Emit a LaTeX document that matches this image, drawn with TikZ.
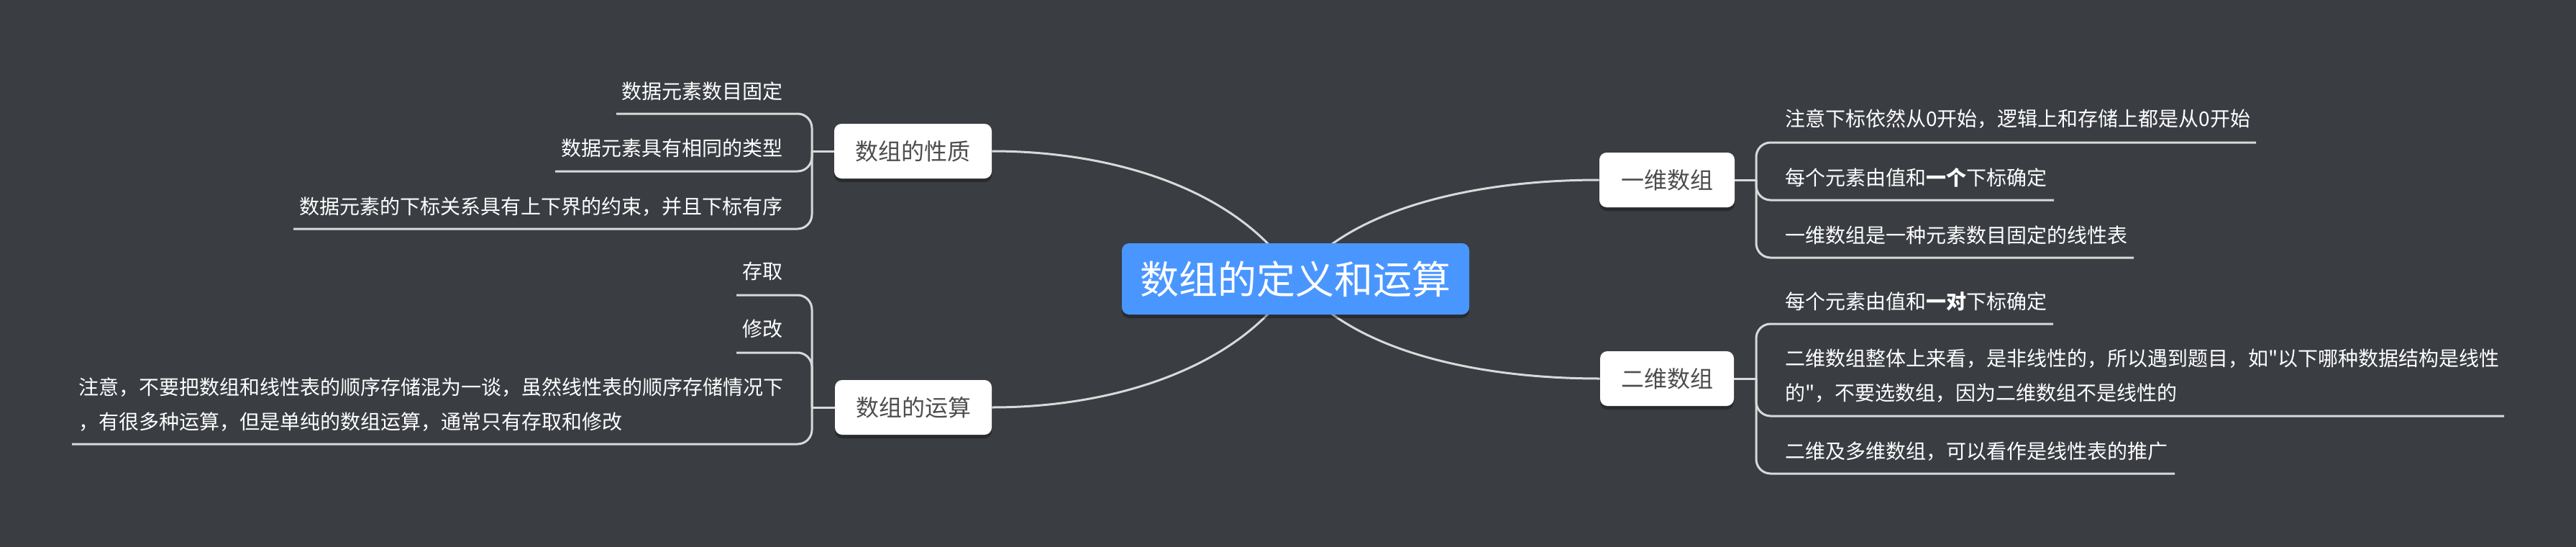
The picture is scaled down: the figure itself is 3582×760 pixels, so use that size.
\documentclass[tikz,border=0pt]{standalone}
\usepackage{fontspec}
\setmainfont{Noto Sans CJK SC}
\newfontfamily\plainq{Noto Sans CJK SC}
\usetikzlibrary{shadows,backgrounds}
\definecolor{bg}{RGB}{58,61,66}
\definecolor{ln}{RGB}{217,217,217}
\definecolor{mainblue}{RGB}{74,150,255}
\definecolor{subtxt}{RGB}{77,77,77}
\begin{document}
\begin{tikzpicture}[x=0.5pt,y=-0.5pt,
  edge/.style={draw=ln, line width=1.5pt},
  bracket/.style={edge, rounded corners=10pt},
  leaf/.style={text=white, font=\fontsize{14pt}{24pt}\selectfont, inner sep=0pt, align=left},
  sub/.style={fill=white, text=subtxt, rounded corners=5pt, font=\fontsize{16pt}{19pt}\selectfont,
    minimum height=38pt, inner sep=0pt,
    drop shadow={shadow xshift=0pt, shadow yshift=-2.5pt, opacity=0.3, fill=black}},
  root/.style={fill=mainblue, text=white, rounded corners=5pt, font=\fontsize{27pt}{32pt}\selectfont,
    minimum width=241.5pt, minimum height=49.5pt, inner sep=0pt,
    drop shadow={shadow xshift=0pt, shadow yshift=-2.5pt, opacity=0.3, fill=black}}]
\begin{scope}[on background layer]
\fill[bg] (0,0) rectangle (3582,760);
\end{scope}
\useasboundingbox (0,0) rectangle (3582,760);

% central and main branches
\node[root] (root) at (1801.5,387.5) {数组的定义和运算};
\node[sub, minimum width=109.5pt] (p) at (1269.5,210) {数组的性质};
\node[sub, minimum width=109pt] (o) at (1270,566) {数组的运算};
\node[sub, minimum width=94pt] (y1) at (2318,250) {一维数组};
\node[sub, minimum width=93pt] (y2) at (2318,526) {二维数组};

% junctions
\coordinate (jp) at (1129,210);
\coordinate (jo) at (1129,566);
\coordinate (jy1) at (2442,250);
\coordinate (jy2) at (2442,526);

% leaves left top
\node[leaf, anchor=east] (l1) at (1089,127) {数据元素数目固定};
\node[leaf, anchor=east] (l2) at (1089,206) {数据元素具有相同的类型};
\node[leaf, anchor=east] (l3) at (1089,287) {数据元素的下标关系具有上下界的约束，并且下标有序};
\coordinate (l1u) at (857,158);
\coordinate (l2u) at (772,238);
\coordinate (l3u) at (408,318);

% leaves left bottom
\node[leaf, anchor=east] (m1) at (1089,377) {存取};
\node[leaf, anchor=east] (m2) at (1089,457) {修改};
\node[leaf, anchor=west] (m3) at (109,562) {注意，不要把数组和线性表的顺序存储混为一谈，虽然线性表的顺序存储情况下\\，有很多种运算，但是单纯的数组运算，通常只有存取和修改};
\coordinate (m1u) at (1024,410);
\coordinate (m2u) at (1024,490);
\coordinate (m3u) at (100,617);

% leaves right top
\node[leaf, anchor=west] (r1) at (2482,165) {注意下标依然从0开始，逻辑上和存储上都是从0开始};
\node[leaf, anchor=west] (r2) at (2482,247) {每个元素由值和\textbf{一个}下标确定};
\node[leaf, anchor=west] (r3) at (2482,327) {一维数组是一种元素数目固定的线性表};
\coordinate (r1u) at (3137,198);
\coordinate (r2u) at (2856,278);
\coordinate (r3u) at (2967,358);

% leaves right bottom
\node[leaf, anchor=west] (s1) at (2482,419) {每个元素由值和\textbf{一对}下标确定};
\node[leaf, anchor=west] (s2) at (2482,522) {二维数组整体上来看，是非线性的，所以遇到题目，如{\plainq"}以下哪种数据结构是线性\\的{\plainq"}，不要选数组，因为二维数组不是线性的};
\node[leaf, anchor=west] (s3) at (2482,627) {二维及多维数组，可以看作是线性表的推广};
\coordinate (s1u) at (2855,450);
\coordinate (s2u) at (3482,578);
\coordinate (s3u) at (3024,658);

\begin{scope}[on background layer]
% main curves
\draw[edge] (p.east) .. controls (1560,210) and (1730,270) .. (root.center);
\draw[edge] (o.east) .. controls (1560,566) and (1730,505) .. (root.center);
\draw[edge] (y1.west) .. controls (2050,250) and (1875,290) .. (root.center);
\draw[edge] (y2.west) .. controls (2050,526) and (1875,486) .. (root.center);
% stems
\draw[edge] (p.west) -- (jp);
\draw[edge] (o.west) -- (jo);
\draw[edge] (y1.east) -- (jy1);
\draw[edge] (y2.east) -- (jy2);
% brackets
\draw[bracket] (jp) |- (l1u);
\draw[bracket] (jp) |- (l2u);
\draw[bracket] (jp) |- (l3u);
\draw[bracket] (jo) |- (m1u);
\draw[bracket] (jo) |- (m2u);
\draw[bracket] (jo) |- (m3u);
\draw[bracket] (jy1) |- (r1u);
\draw[bracket] (jy1) |- (r2u);
\draw[bracket] (jy1) |- (r3u);
\draw[bracket] (jy2) |- (s1u);
\draw[bracket] (jy2) |- (s2u);
\draw[bracket] (jy2) |- (s3u);
\end{scope}
\end{tikzpicture}
\end{document}
